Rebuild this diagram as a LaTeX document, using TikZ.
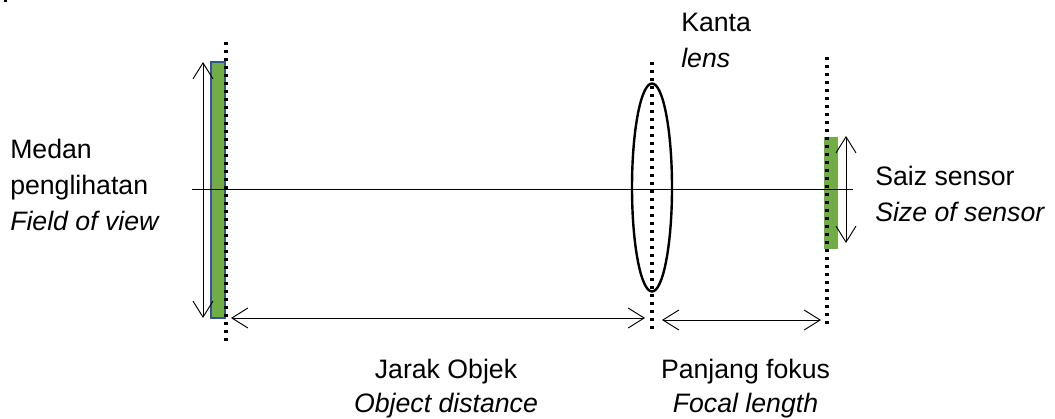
\documentclass[tikz,border=0pt]{standalone}
\usepackage{fontspec}
\setmainfont{Liberation Sans}
\usetikzlibrary{arrows.meta, shapes.geometric}
\definecolor{sensorgreen}{RGB}{112,173,71}
\definecolor{edgeblue}{RGB}{47,85,151}
\tikzset{
	dimline/.style={<->, line width=0.7pt},
	dotline/.style={line width=2.6pt, dash pattern=on 2.6pt off 3.4pt},
	label/.style={inner sep=0pt, font=\fontsize{20}{27}\selectfont}
}
\begin{document}
\begin{tikzpicture}[>={Straight Barb[length=12pt,width=15pt,line width=0.7pt]}, x=0.75pt, y=-0.75pt]
	\useasboundingbox (0,0) rectangle (1055,418);
	\fill (4,0) rectangle (7,2);

	% Blocks
	\draw[fill=sensorgreen, draw=edgeblue, line width=1.2pt] (211,62) rectangle (225,318);
	\fill[sensorgreen] (824,137) rectangle (838,249);

	% Axis
	\coordinate (axisL) at (192,189);
	\coordinate (axisR) at (853,189);
	\draw[line width=0.75pt] (axisL) -- (axisR);

	% Lens
	\node[draw, ellipse, line width=1.8pt, minimum width=30pt, minimum height=156pt, inner sep=0pt] (lens) at (652,187.5) {};

	% Dotted planes
	\coordinate (objT) at (226,42);
	\coordinate (objB) at (226,345);
	\coordinate (lensT) at (652,62);
	\coordinate (lensB) at (652,330);
	\coordinate (senT) at (827,57);
	\coordinate (senB) at (827,325);
	\draw[dotline] (objT) -- (objB);
	\draw[dotline] (lensT) -- (lensB);
	\draw[dotline] (senT) -- (senB);

	% Dimension arrows
	\coordinate (fovT) at (203,62);
	\coordinate (fovB) at (203,318);
	\coordinate (sizeT) at (846,136);
	\coordinate (sizeB) at (846,243);
	\coordinate (objL) at (231,318);
	\coordinate (objR) at (645,318);
	\coordinate (focL) at (662,320);
	\coordinate (focR) at (821,320);
	\draw[dimline] (fovT) -- (fovB);
	\draw[dimline] (sizeT) -- (sizeB);
	\draw[dimline] (objL) -- (objR);
	\draw[dimline] (focL) -- (focR);

	% Labels
	\node[label, anchor=west, align=left] (kanta) at (681,40) {Kanta\\\textit{lens}};
	\node[label, anchor=west, align=left] (medan) at (10,185) {Medan\\penglihatan\\\textit{Field of view}};
	\node[label, anchor=west, align=left] (saiz) at (875,194) {Saiz sensor\\\textit{Size of sensor}};
	\node[label, align=center] (jarak) at (446,389) {Jarak Objek\\[-1.5pt]\textit{Object distance}};
	\node[label, align=center] (panjang) at (745.5,389) {Panjang fokus\\[-1.5pt]\textit{Focal length}};
\end{tikzpicture}
\end{document}
